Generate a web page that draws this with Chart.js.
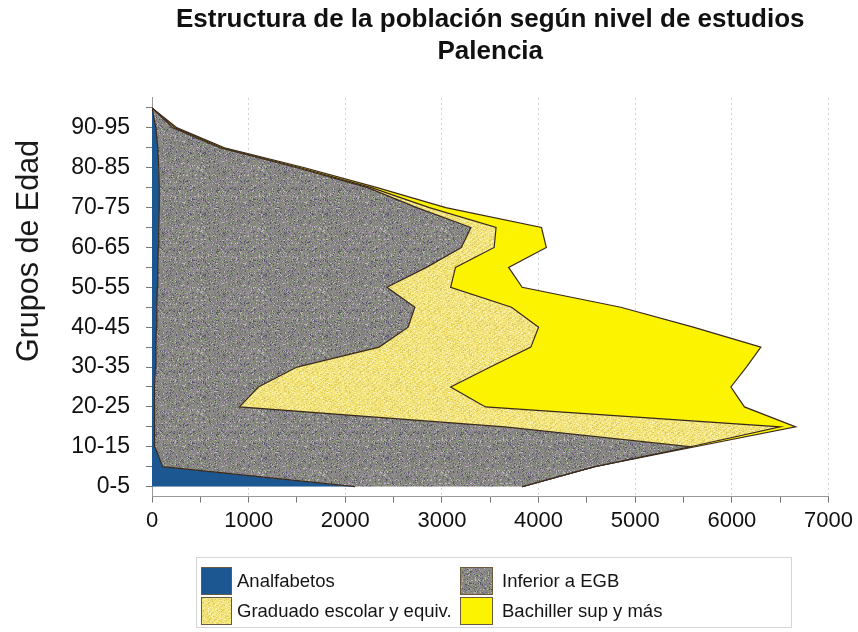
<!DOCTYPE html>
<html>
<head>
<meta charset="utf-8">
<script src="https://cdn.jsdelivr.net/npm/chart.js@4.4.0/dist/chart.umd.min.js"></script>
<style>
  html, body { margin: 0; padding: 0; background: #fff; }
  #wrap { position: relative; width: 858px; height: 632px; }
  #legend {
    position: absolute; left: 196px; top: 557px; width: 596px; height: 71px;
    border: 1px solid #d6d6d6; box-sizing: border-box;
    font-family: "Liberation Sans", Arial, sans-serif; font-size: 18.5px; color: #151515;
  }
  .item { position: absolute; display: flex; align-items: center; height: 28px; }
  .item canvas { margin-right: 5px; }
</style>
</head>
<body>
<div id="wrap">
  <canvas id="c" width="858" height="632"></canvas>
  <div id="legend"></div>
</div>
<script>
// age groups, bottom (0-5) to top
const ageGroups = ['0-5', '5-10', '10-15', '15-20', '20-25', '25-30', '30-35', '35-40', '40-45', '45-50',
  '50-55', '55-60', '60-65', '65-70', '70-75', '75-80', '80-85', '85-90', '90-95', '95-100'];

const analfabetos = [2100, 110, 30, 25, 25, 30, 35, 40, 45, 50, 55, 60, 65, 70, 75, 75, 70, 60, 40, 0];
const inferiorEGB = [1730, 4470, 5540, 3625, 880, 1070, 1465, 2310, 2605, 2670, 2375, 2780, 3135, 3230, 2665, 2155, 1430, 640, 175, 0];
const graduado = [0, 0, 0, 2850, 2545, 1990, 2000, 1570, 1350, 1000, 660, 300, 340, 260, 130, 40, 35, 25, 22, 0];
const bachiller = [0, 0, 50, 160, 2680, 2900, 2650, 2380, 1600, 1130, 740, 550, 540, 470, 170, 60, 45, 25, 23, 0];

const chartTitle = ['Estructura de la población según nivel de estudios', 'Palencia'];
const yAxisTitle = 'Grupos de Edad';
const FONT = '"Liberation Sans", Arial, sans-serif';

// speckled fill, like the printed texture
function speckle(base, dots, size) {
  const c = document.createElement('canvas');
  c.width = c.height = size;
  const g = c.getContext('2d');
  g.fillStyle = base;
  g.fillRect(0, 0, size, size);
  for (let i = 0; i < size * size; i++) {
    const h = ((i * 2654435761) ^ (i >>> 3) * 40503) >>> 0;
    if (h % 5 > 1) continue;
    g.fillStyle = dots[(h >>> 8) % dots.length];
    g.fillRect(i % size, Math.floor(i / size), 1, 1);
  }
  return g.createPattern(c, 'repeat');
}

const blueFill = '#1d5791';
const grayFill = speckle('#87857f', ['#55546a', '#a58fae', '#8fa27a', '#bcbab2', '#74727c'], 61);
const paleFill = speckle('#f2e47a', ['#fbf4bc', '#e8d55c', '#f8ee9c', '#d9c860'], 61);
const brightFill = '#fbf300';

const yTitlePlugin = {
  id: 'yTitle',
  afterDraw(chart) {
    const ctx = chart.ctx;
    ctx.save();
    ctx.translate(38, 251);
    ctx.rotate(-Math.PI / 2);
    ctx.font = '30.5px ' + FONT;
    ctx.fillStyle = '#1a1a1a';
    ctx.textAlign = 'center';
    ctx.textBaseline = 'alphabetic';
    ctx.fillText(yAxisTitle, 0, 0);
    ctx.restore();
  }
};

const base = { borderColor: '#3b2a1c', borderWidth: 1.2, pointRadius: 0, tension: 0 };

const chart = new Chart(document.getElementById('c'), {
  type: 'line',
  data: {
    labels: ageGroups,
    datasets: [
      { ...base, label: 'Analfabetos', data: analfabetos, backgroundColor: blueFill, fill: 'origin' },
      { ...base, label: 'Inferior a EGB', data: inferiorEGB, backgroundColor: grayFill, fill: '-1' },
      { ...base, label: 'Graduado escolar y equiv.', data: graduado, backgroundColor: paleFill, fill: '-1' },
      { ...base, label: 'Bachiller sup y más', data: bachiller, backgroundColor: brightFill, fill: '-1' },
    ],
  },
  options: {
    indexAxis: 'y',
    responsive: false,
    animation: false,
    layout: { padding: { top: 4, right: 27, bottom: 93, left: 0 } },
    plugins: {
      legend: { display: false },
      tooltip: { enabled: false },
      title: {
        display: true,
        fullSize: false,
        text: chartTitle,
        color: '#111',
        font: { family: FONT, size: 26, weight: 'bold', lineHeight: 1.23 },
        padding: { top: 0, bottom: 30 },
      },
    },
    scales: {
      x: {
        stacked: true,
        min: 0,
        max: 7000,
        ticks: {
          stepSize: 500,
          autoSkip: false,
          maxRotation: 0,
          padding: 5,
          color: '#111',
          font: { family: FONT, size: 22 },
          callback: (v) => (v % 1000 === 0 ? String(v) : ''),
        },
        grid: {
          color: (ctx) => (ctx.tick && ctx.tick.value % 1000 === 0 && ctx.tick.value > 0 ? '#d2d2d2' : 'rgba(0,0,0,0)'),
          tickColor: '#777',
          tickLength: 6,
        },
        border: { color: '#999', dash: [2, 3] },
      },
      y: {
        reverse: true,
        offset: true,
        ticks: {
          autoSkip: false,
          padding: 16,
          color: '#111',
          font: { family: FONT, size: 23 },
          callback: (v, i) => (i % 2 === 0 ? ageGroups[i] : ''),
        },
        grid: { drawOnChartArea: false, tickColor: '#777', tickLength: 6 },
        border: { color: '#999' },
        afterFit: (s) => { s.width = 152; },
      },
    },
  },
  plugins: [yTitlePlugin],
});

// legend in two columns, built from the datasets
const legendEl = document.getElementById('legend');
const spots = [[4, 9], [263, 9], [4, 39], [263, 39]];
chart.data.datasets.forEach((ds, i) => {
  const item = document.createElement('div');
  item.className = 'item';
  item.style.left = spots[i][0] + 'px';
  item.style.top = spots[i][1] + 'px';
  const sw = document.createElement('canvas');
  sw.width = i % 2 ? 33 : 31;
  sw.height = 28;
  const g = sw.getContext('2d');
  g.fillStyle = ds.backgroundColor;
  g.fillRect(0, 0, sw.width, sw.height);
  g.strokeStyle = '#6b5a3c';
  g.strokeRect(0.5, 0.5, sw.width - 1, sw.height - 1);
  if (i % 2) sw.style.marginRight = '9px';
  const tx = document.createElement('span');
  tx.textContent = ds.label;
  item.appendChild(sw);
  item.appendChild(tx);
  legendEl.appendChild(item);
});
</script>
</body>
</html>
